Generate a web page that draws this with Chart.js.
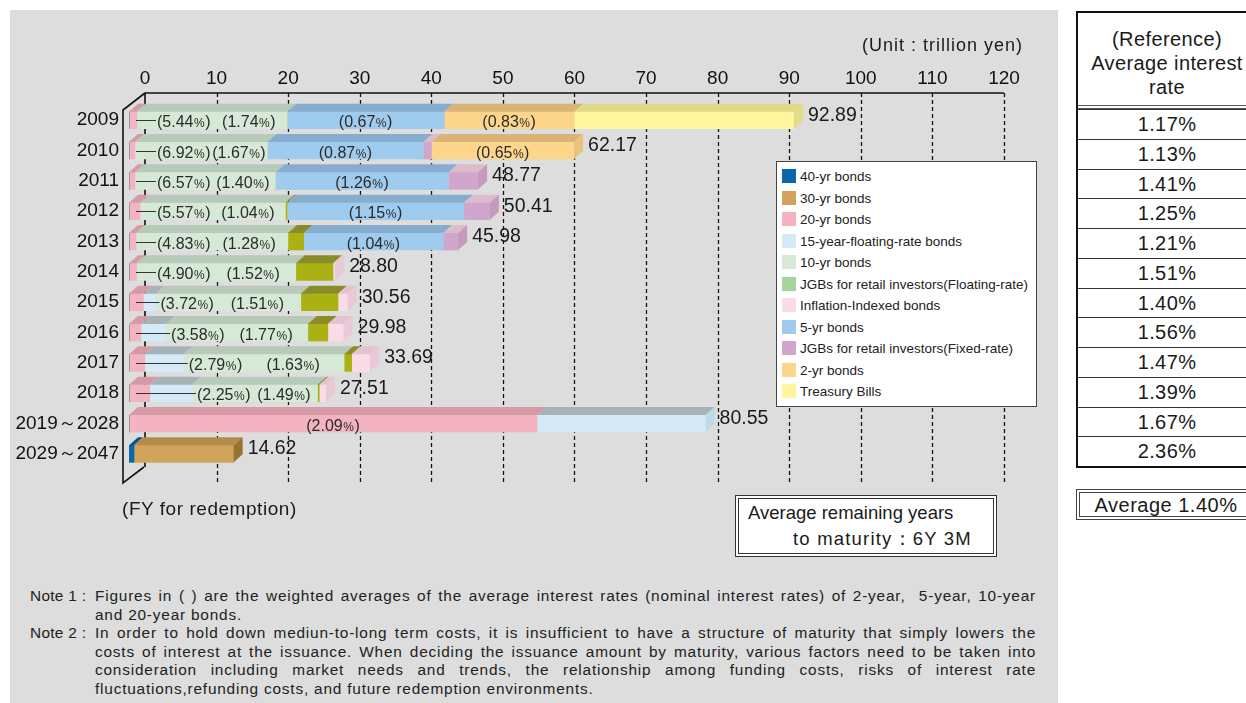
<!DOCTYPE html>
<html>
<head>
<meta charset="utf-8">
<script src="https://cdn.jsdelivr.net/npm/chart.js@4.4.1/dist/chart.umd.min.js"></script>
<style>
  html, body { margin: 0; padding: 0; }
  body {
    width: 1246px; height: 703px; overflow: hidden; position: relative;
    background: #fff; color: #1a1a1a;
    font-family: "Liberation Sans", Arial, sans-serif;
  }
  .panel { position: absolute; left: 10px; top: 10px; width: 1048px; height: 693px; background: #dcdddc; }
  #chart { position: absolute; left: 0; top: 0; }
  .unit { position: absolute; left: 862px; top: 35px; font-size: 18px; letter-spacing: 1px; }
  .fy { position: absolute; left: 122px; top: 498px; font-size: 19px; letter-spacing: 0.55px; }
  .legend {
    position: absolute; left: 776px; top: 161px; width: 259px; height: 244px;
    background: #fff; border: 1px solid #444; font-size: 13.5px; color: #222;
  }
  .legend div { position: absolute; left: 5px; height: 16px; line-height: 16px; white-space: nowrap; }
  .legend span { display: inline-block; width: 14px; height: 14px; vertical-align: -2px; margin-right: 4px; }
  .maturity {
    position: absolute; left: 735px; top: 495px; width: 254px; height: 54px;
    border: 4px double #333; background: #fff; font-size: 18.5px; line-height: 26px;
  }
  .maturity .l1 { padding-left: 9px; padding-top: 1px; }
  .maturity .l2 { padding-left: 54px; letter-spacing: 1.2px; }
  .ref {
    position: absolute; left: 1076px; top: 11px; width: 178px;
    border: 2px solid #111; border-right: none; background: #fff; font-size: 20px; letter-spacing: 0.4px;
  }
  .ref .head { height: 96px; text-align: center; line-height: 24px; padding-top: 14px; box-sizing: border-box; border-bottom: 4px double #555; }
  .ref .row { height: 29.75px; line-height: 29.75px; text-align: center; border-top: 1px solid #333; box-sizing: border-box; }
  .ref .row:first-of-type { border-top: none; }
  .avg {
    position: absolute; left: 1076px; top: 489px; width: 176px; height: 31px;
    border: 4px double #444; border-right: none; background: #fff; font-size: 20px; letter-spacing: 0.5px;
    line-height: 24px; text-align: center; box-sizing: border-box;
  }
  .notes { position: absolute; left: 30px; top: 587px; width: 1006px; font-size: 15.4px; letter-spacing: 0.8px; color: #222; }
  .notes .ln { display: flex; height: 18.6px; line-height: 18.6px; }
  .notes .lab { width: 65px; flex: none; letter-spacing: 0.3px; }
  .notes .txt { flex: 1; white-space: nowrap; }
  .notes .full { text-align: justify; text-align-last: justify; white-space: normal; overflow: hidden; height: 18.6px; }
</style>
</head>
<body>
<div class="panel"></div>
<canvas id="chart" width="1060" height="560"></canvas>
<div class="unit">(Unit : trillion yen)</div>
<div class="fy">(FY for redemption)</div>
<div class="legend" id="legend"></div>
<div class="maturity"><div class="l1">Average remaining years</div><div class="l2">to maturity：6Y 3M</div></div>
<div class="ref" id="ref"><div class="head">(Reference)<br>Average interest<br>rate</div></div>
<div class="avg">Average 1.40%</div>
<div class="notes">
  <div class="ln"><span class="lab">Note 1 :</span><span class="txt full">Figures in ( ) are the weighted averages of the average interest rates (nominal interest rates) of 2-year,&nbsp; 5-year, 10-year</span></div>
  <div class="ln"><span class="lab"></span><span class="txt">and 20-year bonds.</span></div>
  <div class="ln"><span class="lab">Note 2 :</span><span class="txt full">In order to hold down mediun-to-long term costs, it is insufficient to have a structure of maturity that simply lowers the</span></div>
  <div class="ln"><span class="lab"></span><span class="txt full">costs of interest at the issuance. When deciding the issuance amount by maturity, various factors need to be taken into</span></div>
  <div class="ln"><span class="lab"></span><span class="txt full">consideration including market needs and trends, the relationship among funding costs, risks of interest rate</span></div>
  <div class="ln"><span class="lab"></span><span class="txt">fluctuations,refunding costs, and future redemption environments.</span></div>
</div>

<script>
// FY for redemption
const categories = ["2009", "2010", "2011", "2012", "2013", "2014", "2015", "2016", "2017", "2018", "2019～2028", "2029～2047"];

// amounts by maturity (trillion yen)
const bonds40     = [0, 0, 0, 0, 0, 0, 0, 0, 0, 0, 0, 0.7];
const bonds30     = [0, 0, 0, 0, 0, 0, 0, 0, 0, 0, 0, 13.92];
const bonds20     = [1.1, 0.84, 0.85, 1.55, 1.0, 1.05, 2.0, 1.68, 2.2, 2.9, 57.0, 0];
const floating15  = [0, 0, 0, 0, 0, 0, 1.7, 3.5, 5.45, 5.9, 23.55, 0];
const bonds10     = [21.0, 18.5, 19.6, 20.3, 21.2, 22.25, 20.3, 19.8, 22.4, 17.53, 0, 0];
const retailFloat = [0, 0, 0, 0.24, 2.2, 5.2, 5.2, 2.8, 1.05, 0.25, 0, 0];
const inflation   = [0, 0, 0, 0, 0, 0.3, 1.36, 2.2, 2.59, 0.93, 0, 0];
const bonds5      = [21.9, 21.8, 24.2, 24.7, 19.5, 0, 0, 0, 0, 0, 0, 0];
const retailFixed = [0, 1.1, 4.12, 3.62, 2.08, 0, 0, 0, 0, 0, 0, 0];
const bonds2      = [18.2, 19.93, 0, 0, 0, 0, 0, 0, 0, 0, 0, 0];
const tBills      = [30.7, 0, 0, 0, 0, 0, 0, 0, 0, 0, 0, 0];

const totals = ["92.89", "62.17", "48.77", "50.41", "45.98", "28.80", "30.56", "29.98", "33.69", "27.51", "80.55", "14.62"];

// weighted average rates shown in ( )
const rate20 = ["5.44", "6.92", "6.57", "5.57", "4.83", "4.90", "3.72", "3.58", "2.79", "2.25", "2.09", null];
const rate10 = ["1.74", "1.67", "1.40", "1.04", "1.28", "1.52", "1.51", "1.77", "1.63", "1.49", null, null];
const rate5  = ["0.67", "0.87", "1.26", "1.15", "1.04", null, null, null, null, null, null, null];
const rate2  = ["0.83", "0.65", null, null, null, null, null, null, null, null, null, null];

// (Reference) average interest rate
const refRates = ["1.17%", "1.13%", "1.41%", "1.25%", "1.21%", "1.51%", "1.40%", "1.56%", "1.47%", "1.39%", "1.67%", "2.36%"];

const axisTicks = [0, 10, 20, 30, 40, 50, 60, 70, 80, 90, 100, 110, 120];

const series = [
  { label: "40-yr bonds", data: bonds40, face: "#0a66ad", top: "#07548f", side: "#07548f" },
  { label: "30-yr bonds", data: bonds30, face: "#d2a35b", top: "#b48b4b", side: "#98722f" },
  { label: "20-yr bonds", data: bonds20, face: "#f4b3c1", top: "#d699a6", side: "#e2a5b2" },
  { label: "15-year-floating-rate bonds", data: floating15, face: "#d4eaf7", top: "#a7b2b6", side: "#c0d9e8" },
  { label: "10-yr bonds", data: bonds10, face: "#d6e9d6", top: "#b7c9b8", side: "#c2d6c3" },
  { label: "JGBs for retail investors(Floating-rate)", data: retailFloat, face: "#aab113", top: "#8a8c2a", side: "#8a8c2a", swatch: "#a5d39a" },
  { label: "Inflation-Indexed bonds", data: inflation, face: "#fbdce6", top: "#e3c3d0", side: "#e8c9d7" },
  { label: "5-yr bonds", data: bonds5, face: "#9ecbee", top: "#86adcd", side: "#86adcd" },
  { label: "JGBs for retail investors(Fixed-rate)", data: retailFixed, face: "#d0a6cc", top: "#dbbccb", side: "#c699bd" },
  { label: "2-yr bonds", data: bonds2, face: "#fdd68b", top: "#d9b476", side: "#e8c37f" },
  { label: "Treasury Bills", data: tBills, face: "#fff59c", top: "#e0d987", side: "#e4dc89" }
];

const depthX = 9, depthY = 8;
const backOffset = 2.235;   // back plane of the 3D frame, in axis units
const labelFont = '"Liberation Sans", Arial, sans-serif';

function drawRate(ctx, value, x, y, centered) {
  const big = "16px " + labelFont, small = "12px " + labelFont;
  ctx.font = big;
  const w1 = ctx.measureText("(" + value).width;
  const w3 = ctx.measureText(")").width;
  ctx.font = small;
  const w2 = ctx.measureText("%").width;
  const w = w1 + w2 + w3 + 1;
  let sx = centered ? x - w / 2 : x;
  ctx.fillStyle = "#2b2b2b";
  ctx.textAlign = "left";
  ctx.textBaseline = "alphabetic";
  ctx.font = big;
  ctx.fillText("(" + value, sx, y + 6);
  ctx.font = small;
  ctx.fillText("%", sx + w1 + 0.5, y + 6);
  ctx.font = big;
  ctx.fillText(")", sx + w1 + w2 + 1, y + 6);
  return w;
}

const frame3d = {
  id: "frame3d",
  beforeDatasetsDraw(chart) {
    const { ctx, chartArea } = chart;
    const x2 = chart.scales.x2, x = chart.scales.x;
    const top = chartArea.top - 12, bottom = chartArea.bottom + 14;
    const back0 = x2.getPixelForValue(0);
    const wall = x.getPixelForValue(0) - 6;
    ctx.save();
    ctx.strokeStyle = "#111";
    ctx.lineWidth = 1.3;
    ctx.setLineDash([4, 3]);
    x2.ticks.forEach(t => {
      if (t.value === 0) return;
      const px = Math.round(x2.getPixelForValue(t.value)) + 0.5;
      ctx.beginPath(); ctx.moveTo(px, top); ctx.lineTo(px, bottom); ctx.stroke();
    });
    ctx.setLineDash([]);
    ctx.lineWidth = 1.6;
    ctx.beginPath();
    ctx.moveTo(x2.getPixelForValue(120), top);
    ctx.lineTo(back0, top);
    ctx.lineTo(back0, bottom - 16);
    ctx.moveTo(back0, top);
    ctx.lineTo(wall, top + 17);
    ctx.lineTo(wall, bottom);
    ctx.lineTo(back0 - 1, bottom - 16);
    ctx.stroke();
    ctx.restore();
  },
  afterDatasetsDraw(chart) {
    const { ctx } = chart;
    const xs = chart.scales.x;
    ctx.save();
    categories.forEach((cat, i) => {
      let last = null, lastDs = null;
      series.forEach((s, d) => {
        if (!s.data[i]) return;
        const el = chart.getDatasetMeta(d).data[i];
        const yt = el.y - el.height / 2;
        ctx.fillStyle = s.top;
        ctx.beginPath();
        ctx.moveTo(el.base, yt);
        ctx.lineTo(el.x, yt);
        ctx.lineTo(el.x + depthX, yt - depthY);
        ctx.lineTo(el.base + depthX, yt - depthY);
        ctx.closePath();
        ctx.fill();
        last = el; lastDs = s;
      });
      if (!last) return;
      const yt = last.y - last.height / 2, yb = last.y + last.height / 2;
      ctx.fillStyle = lastDs.side;
      ctx.beginPath();
      ctx.moveTo(last.x, yt);
      ctx.lineTo(last.x + depthX, yt - depthY);
      ctx.lineTo(last.x + depthX, yb - depthY);
      ctx.lineTo(last.x, yb);
      ctx.closePath();
      ctx.fill();

      // total
      ctx.fillStyle = "#1a1a1a";
      ctx.font = "19.5px " + labelFont;
      ctx.textAlign = "left";
      ctx.textBaseline = "middle";
      ctx.fillText(totals[i], last.x + depthX + 5, last.y - depthY / 2 - 1);

      const cy = last.y + 1;
      if (rate10[i]) {
        const g = chart.getDatasetMeta(4).data[i];
        const start = Math.max(xs.getPixelForValue(0) + 28, g.base + 5);
        ctx.strokeStyle = "#333";
        ctx.lineWidth = 1;
        ctx.beginPath();
        ctx.moveTo(xs.getPixelForValue(0) + 7, Math.round(last.y) + 0.5);
        ctx.lineTo(start - 1, Math.round(last.y) + 0.5);
        ctx.stroke();
        const w = drawRate(ctx, rate20[i], start, cy, false);
        drawRate(ctx, rate10[i], (start + w + g.x) / 2, cy, true);
      } else if (rate20[i]) {
        const p = chart.getDatasetMeta(2).data[i];
        drawRate(ctx, rate20[i], (p.base + p.x) / 2, cy, true);
      }
      if (rate5[i]) {
        const b = chart.getDatasetMeta(7).data[i];
        drawRate(ctx, rate5[i], (b.base + b.x) / 2, cy, true);
      }
      if (rate2[i]) {
        const o = chart.getDatasetMeta(9).data[i];
        drawRate(ctx, rate2[i], (o.base + o.x) / 2, cy, true);
      }
    });
    ctx.restore();
  }
};

const chart = new Chart(document.getElementById("chart"), {
  type: "bar",
  data: {
    labels: categories,
    datasets: series.map(s => ({
      label: s.label,
      data: s.data,
      backgroundColor: s.face,
      borderWidth: 0,
      barThickness: 17
    }))
  },
  options: {
    indexAxis: "y",
    responsive: false,
    animation: false,
    devicePixelRatio: 1,
    layout: { padding: { left: 0, top: 0, right: 56, bottom: 91 } },
    plugins: { legend: { display: false }, tooltip: { enabled: false } },
    scales: {
      x: {
        stacked: true, display: false, min: 0, max: 120 + backOffset
      },
      x2: {
        type: "linear", position: "top", min: -backOffset, max: 120,
        grid: { display: false, drawTicks: false },
        border: { display: false },
        ticks: { stepSize: 10, padding: 15, color: "#111", font: { family: "Liberation Sans", size: 19 } },
        afterBuildTicks: s => { s.ticks = axisTicks.map(v => ({ value: v })); },
        afterFit: s => { s.height = 105; }
      },
      y: {
        stacked: true,
        grid: { display: false, drawTicks: false },
        border: { display: false },
        ticks: { padding: 10, color: "#111", font: { family: "Liberation Sans", size: 19 } },
        afterFit: s => { s.width = 129; }
      }
    }
  },
  plugins: [frame3d]
});

// legend from the datasets
const legend = document.getElementById("legend");
series.forEach((s, k) => {
  const row = document.createElement("div");
  row.style.top = (7 + k * 21.5) + "px";
  row.innerHTML = '<span style="background:' + (s.swatch || s.face) + '"></span>' + s.label;
  legend.appendChild(row);
});

// reference table
const ref = document.getElementById("ref");
refRates.forEach(r => {
  const row = document.createElement("div");
  row.className = "row";
  row.textContent = r;
  ref.appendChild(row);
});
</script>
</body>
</html>
